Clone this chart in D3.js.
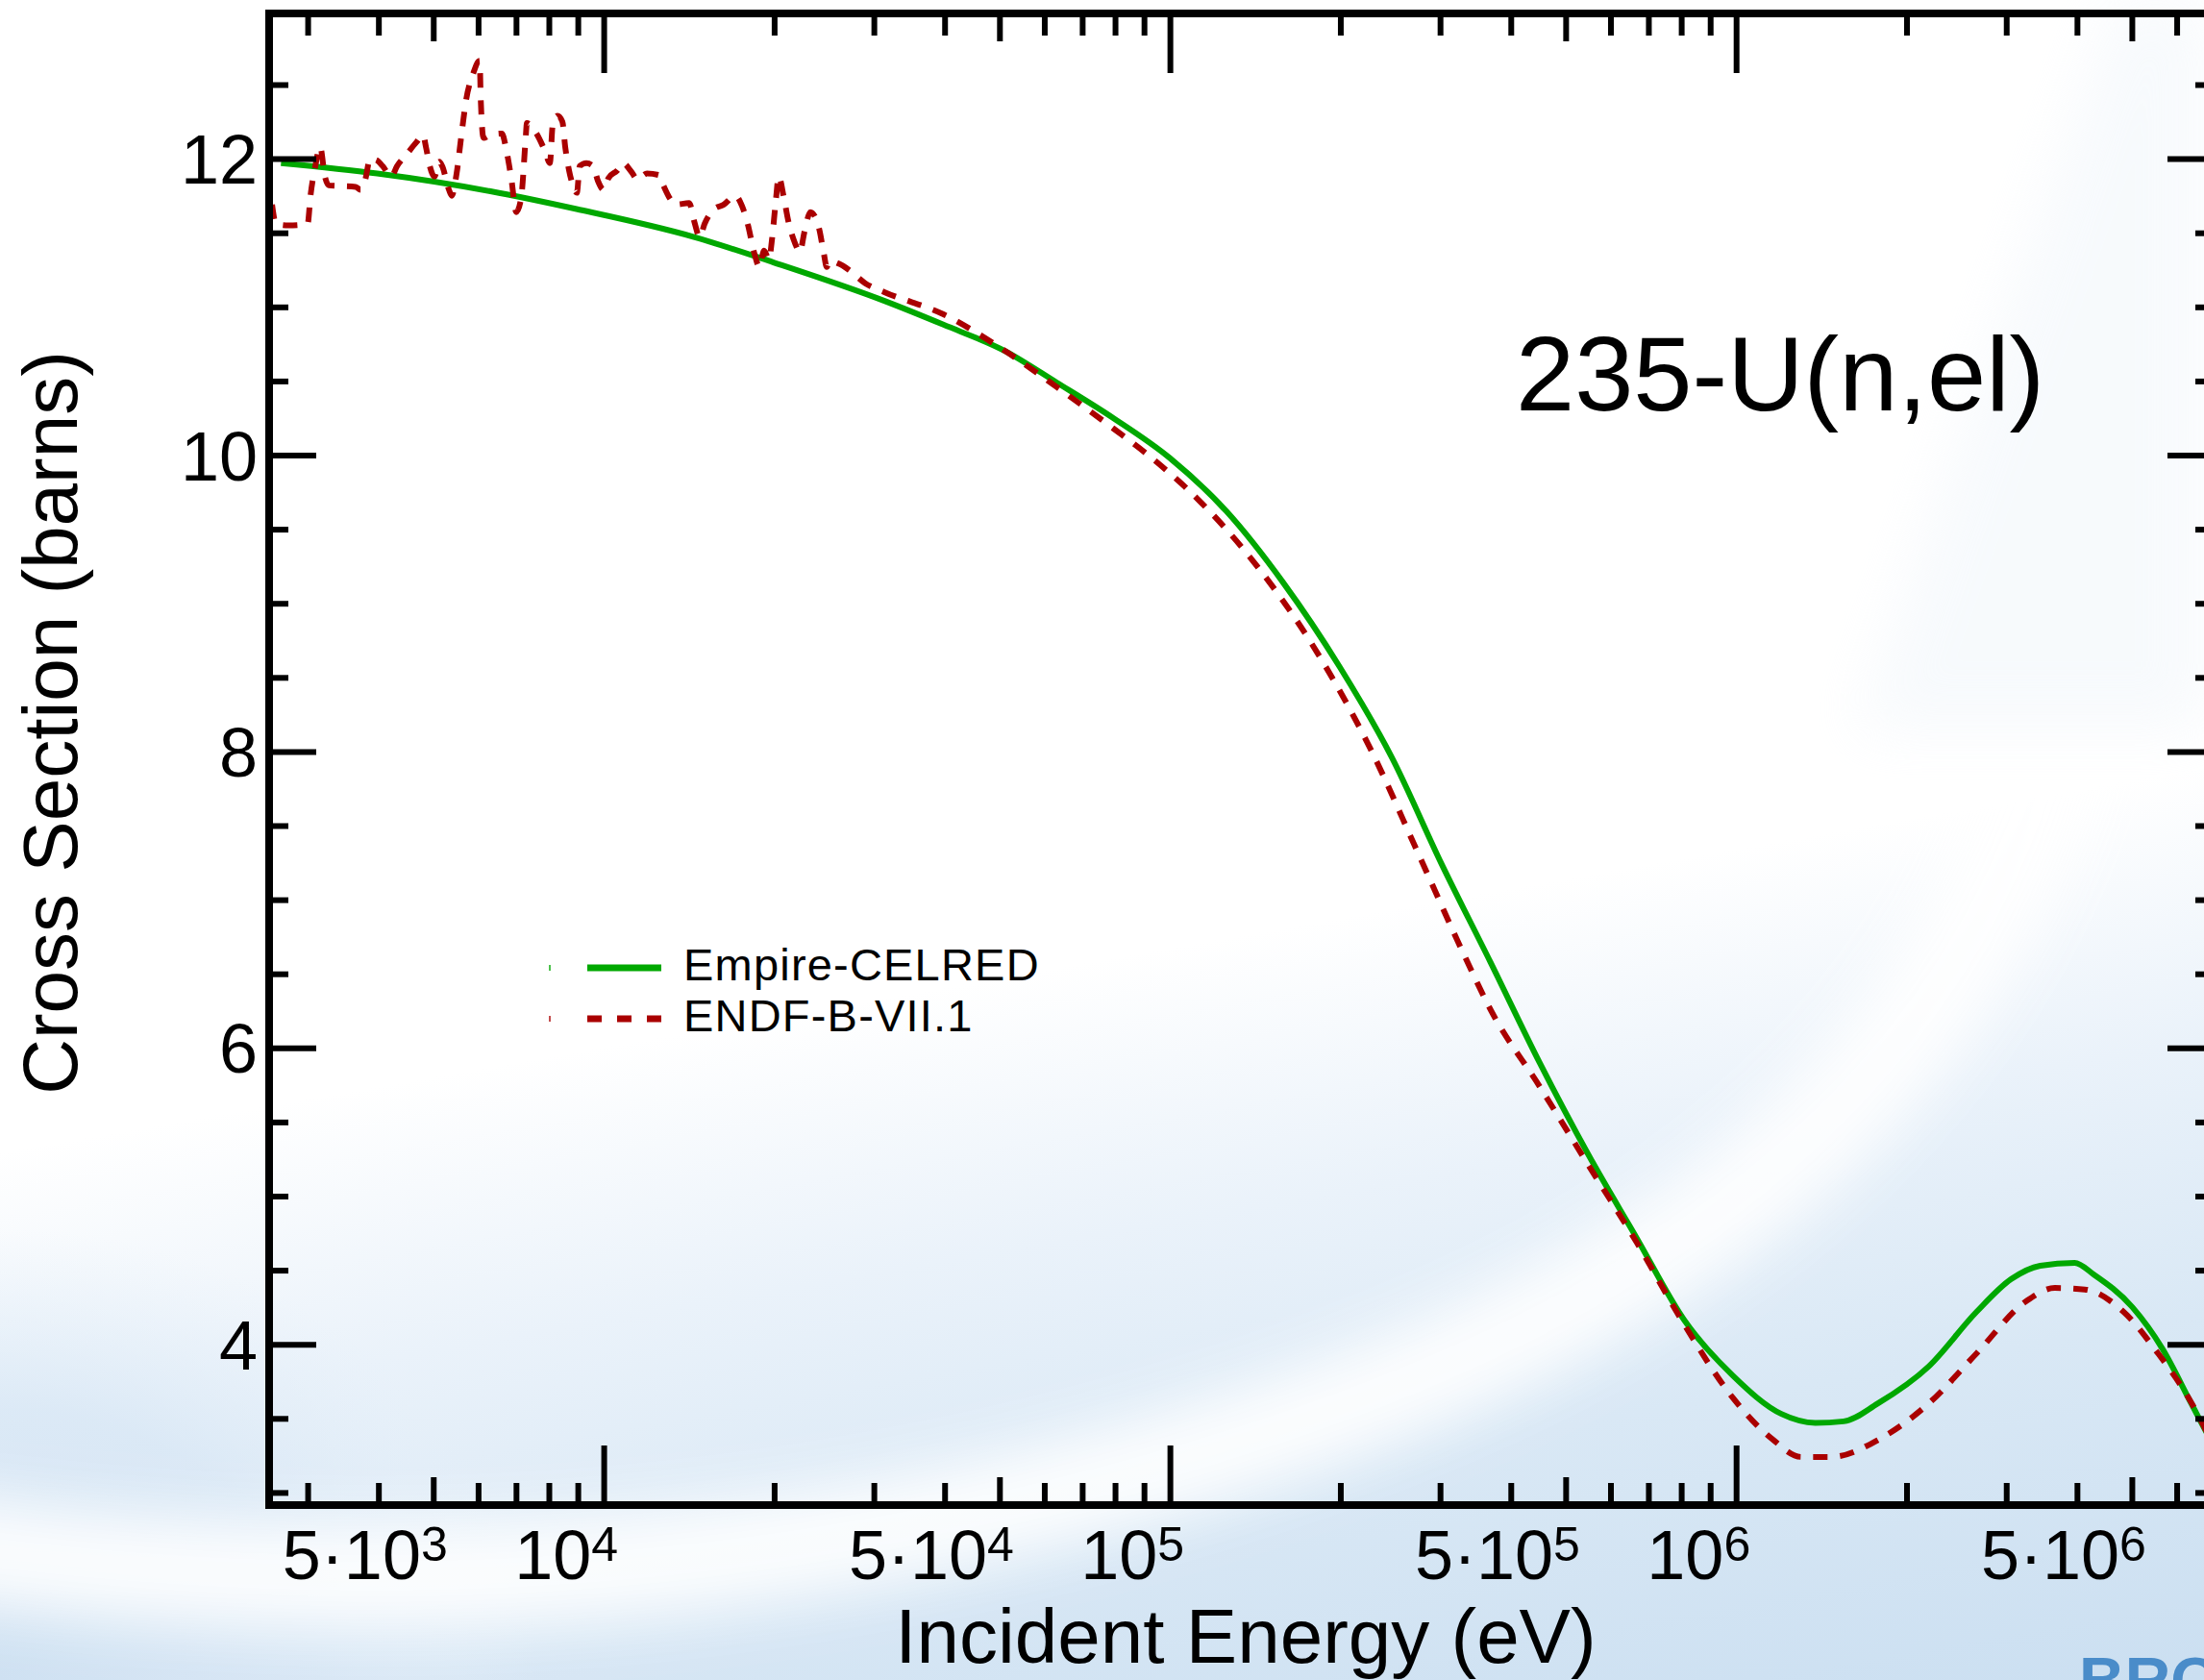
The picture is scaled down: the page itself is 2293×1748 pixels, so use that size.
<!DOCTYPE html>
<html>
<head>
<meta charset="utf-8">
<script src="https://cdn.jsdelivr.net/npm/d3@7"></script>
<style>
  html, body { margin: 0; padding: 0; background: #ffffff; overflow: hidden; }
  svg { display: block; }
  text { font-family: "Liberation Sans", Arial, Helvetica, sans-serif; fill: #000; }
</style>
</head>
<body>
<svg id="chart"></svg>
<script>
// ---- 235-U elastic cross section: Empire-CELRED vs ENDF/B-VII.1 ----

// Empire-CELRED evaluation (smooth), energy in eV, cross section in barns
const empireEnergy = [2692, 3981, 6310, 8954, 14488, 19953, 31333, 39811, 51286, 63096,
  79433, 100000, 125893, 158489, 199526, 246604, 301995, 368129, 449780, 548277,
  666807, 810961, 986279, 1202264, 1380384, 1548817, 1778279, 2187762, 2660725, 3062290,
  3443499, 3962780, 4285485, 5011872, 5662393, 6367955, 7000000];
const empireXS = [11.97, 11.90, 11.78, 11.66, 11.47, 11.30, 11.04, 10.88, 10.70, 10.49,
  10.25, 9.98, 9.62, 9.14, 8.57, 7.96, 7.24, 6.58, 5.90, 5.28,
  4.72, 4.16, 3.79, 3.53, 3.47, 3.48, 3.60, 3.85, 4.22, 4.44,
  4.53, 4.55, 4.47, 4.25, 3.97, 3.60, 3.30];

// ENDF/B-VII.1 (unresolved-resonance structure below ~30 keV)
const endfEnergy = [2596, 2637, 2774, 3000, 3035, 3095, 3156, 3218, 3269, 3648,
  3720, 3793, 3868, 3975, 4070, 4216, 4315, 4487, 4667, 4797,
  4853, 4930, 5025, 5125, 5185, 5330, 5391, 5498, 5607, 5717,
  5876, 6039, 6063, 6134, 6305, 6607, 6737, 6871, 7007, 7145,
  7287, 7315, 7577, 7878, 8034, 8128, 8289, 8453, 8551, 8687,
  8790, 8966, 9072, 9320, 9579, 9768, 10000, 10198, 10563, 10814,
  11200, 11467, 11925, 12497, 12744, 13096, 13355, 14163, 14443, 14778,
  15070, 15670, 16295, 17078, 17553, 17961, 18459, 18836, 19198, 19588,
  19819, 20130, 20375, 20777, 21184, 21772, 22198, 22635, 23174, 24004,
  24479, 24768, 25061, 26062, 27098, 28960, 31310, 39811, 51286, 63096,
  79433, 92257, 112202, 141254, 177828, 225944, 275423, 333426, 368129, 449780,
  548277, 666807, 810961, 986279, 1159000, 1303000, 1472000, 1791000, 2188000, 2661000,
  3251000, 3656000, 4130000, 4831000, 5559000, 6383000, 7000000];
const endfXS = [11.69, 11.56, 11.55, 11.56, 11.75, 11.95, 12.08, 11.88, 11.82, 11.81,
  11.79, 11.86, 12.00, 11.99, 11.95, 11.88, 11.95, 12.03, 12.11, 12.16,
  12.08, 11.95, 11.88, 11.98, 11.95, 11.79, 11.75, 11.90, 12.16, 12.40,
  12.57, 12.66, 12.42, 12.14, 12.16, 12.17, 12.05, 11.86, 11.64, 11.73,
  12.16, 12.24, 12.18, 12.05, 11.97, 12.23, 12.29, 12.25, 12.08, 11.92,
  11.84, 11.77, 11.95, 11.97, 11.95, 11.85, 11.79, 11.87, 11.92, 11.97,
  11.91, 11.86, 11.90, 11.89, 11.82, 11.73, 11.69, 11.70, 11.58, 11.47,
  11.56, 11.66, 11.69, 11.75, 11.68, 11.56, 11.36, 11.27, 11.38, 11.32,
  11.45, 11.71, 11.88, 11.75, 11.58, 11.43, 11.37, 11.51, 11.64, 11.53,
  11.36, 11.27, 11.31, 11.29, 11.25, 11.16, 11.10, 10.95, 10.70, 10.46,
  10.18, 9.99, 9.70, 9.27, 8.73, 8.02, 7.30, 6.60, 6.26, 5.74,
  5.21, 4.69, 4.13, 3.64, 3.36, 3.24, 3.24, 3.36, 3.60, 3.94,
  4.29, 4.38, 4.37, 4.22, 3.94, 3.60, 3.30];

// Axis ticks and labels
const xMajorTicks = [1e4, 1e5, 1e6];
const xHalfTicks = [5e3, 5e4, 5e5, 5e6];
const xMinorTicks = [3e3, 4e3, 6e3, 7e3, 8e3, 9e3,
  2e4, 3e4, 4e4, 6e4, 7e4, 8e4, 9e4,
  2e5, 3e5, 4e5, 6e5, 7e5, 8e5, 9e5,
  2e6, 3e6, 4e6, 6e6];
const xLabelValues = [5e3, 1e4, 5e4, 1e5, 5e5, 1e6, 5e6];
const xLabelBase = ["5\u00b710", "10", "5\u00b710", "10", "5\u00b710", "10", "5\u00b710"];
const xLabelExp = ["3", "4", "4", "5", "5", "6", "6"];

const yMajorTicks = [4, 6, 8, 10, 12];
const yMinorTicks = [3, 3.5, 4.5, 5, 5.5, 6.5, 7, 7.5, 8.5, 9, 9.5, 10.5, 11, 11.5, 12.5];

const seriesNames = ["Empire-CELRED", "ENDF-B-VII.1"];
const seriesColors = ["#00a800", "#aa0000"];

const W = 2293, H = 1748;
const plot = { left: 280, right: 2304, top: 14, bottom: 1566 };

const svg = d3.select("#chart").attr("width", W).attr("height", H);
const defs = svg.append("defs");

// ---- background: white, turning pale blue toward the bottom, with a glare arc ----
const dg = defs.append("linearGradient")
  .attr("id", "bgDiag").attr("gradientUnits", "userSpaceOnUse")
  .attr("x1", 203).attr("y1", 1164).attr("x2", 364).attr("y2", 2084);
[[0, "#ffffff"], [0.3, "#eaf2fa"], [0.6, "#d9e8f5"], [1, "#cbdff1"]].forEach(([o, c]) =>
  dg.append("stop").attr("offset", o).attr("stop-color", c));

const cg = defs.append("radialGradient")
  .attr("id", "cornerBlue").attr("gradientUnits", "userSpaceOnUse")
  .attr("cx", 0).attr("cy", 0).attr("r", 1)
  .attr("gradientTransform", "translate(0,1748) scale(560,470)");
cg.append("stop").attr("offset", 0).attr("stop-color", "#cfe1f2").attr("stop-opacity", 1);
cg.append("stop").attr("offset", 0.6).attr("stop-color", "#d8e7f5").attr("stop-opacity", 0.8);
cg.append("stop").attr("offset", 1).attr("stop-color", "#e6f0f9").attr("stop-opacity", 0);

defs.append("filter").attr("id", "soft").attr("x", "-30%").attr("y", "-30%")
  .attr("width", "160%").attr("height", "160%")
  .append("feGaussianBlur").attr("stdDeviation", 30);

svg.append("rect").attr("width", W).attr("height", H).attr("fill", "url(#bgDiag)");
svg.append("rect").attr("width", W).attr("height", H).attr("fill", "url(#cornerBlue)");
// glare arc sweeping under the energy axis and up toward the right
svg.append("path")
  .attr("d", "M -120 1600 Q 650 1720 1350 1480 T 2150 700")
  .attr("fill", "none").attr("stroke", "#ffffff").attr("stroke-width", 110)
  .attr("opacity", 0.9).attr("filter", "url(#soft)");
// faint sheen in the upper right
svg.append("path")
  .attr("d", "M 2200 0 L 2293 0 L 2293 760 L 1930 760 Z")
  .attr("fill", "#eef4fa").attr("opacity", 0.45).attr("filter", "url(#soft)");

// ---- scales ----
const x = d3.scaleLog().domain([2565, 7.0e6]).range([plot.left, plot.right]);
const y = d3.scaleLinear().domain([2.915, 12.98]).range([plot.bottom, plot.top]);

// ---- curves ----
defs.append("clipPath").attr("id", "plotClip")
  .append("rect").attr("x", plot.left).attr("y", plot.top)
  .attr("width", plot.right - plot.left).attr("height", plot.bottom - plot.top);

const line = d3.line().x(d => x(d[0])).y(d => y(d[1])).curve(d3.curveMonotoneX);
const curves = svg.append("g").attr("clip-path", "url(#plotClip)");

curves.append("path")
  .datum(empireEnergy.map((e, i) => [e, empireXS[i]]))
  .attr("d", line).attr("fill", "none")
  .attr("stroke", seriesColors[0]).attr("stroke-width", 6).attr("stroke-linejoin", "round");

curves.append("path")
  .datum(endfEnergy.map((e, i) => [e, endfXS[i]]))
  .attr("d", line).attr("fill", "none")
  .attr("stroke", seriesColors[1]).attr("stroke-width", 6)
  .attr("stroke-dasharray", "15,13");

// ---- ticks (all pointing into the frame) ----
function tickSet(axisGen, values, size, tx, ty) {
  const g = svg.append("g").attr("transform", `translate(${tx},${ty})`);
  g.call(axisGen.tickValues(values).tickSize(size).tickFormat(() => ""));
  g.select(".domain").remove();
  g.selectAll(".tick text").remove();
  g.selectAll(".tick line").attr("stroke", "#000").attr("stroke-width", 6);
}
[[xMajorTicks, 62], [xHalfTicks, 29], [xMinorTicks, 23]].forEach(([vals, len]) => {
  tickSet(d3.axisTop(x), vals, len, 0, plot.bottom);
  tickSet(d3.axisBottom(x), vals, len, 0, plot.top);
});
[[yMajorTicks, 49], [yMinorTicks, 20]].forEach(([vals, len]) => {
  tickSet(d3.axisRight(y), vals, len, plot.left, 0);
  tickSet(d3.axisLeft(y), vals, len, plot.right, 0);
});

// frame
svg.append("rect")
  .attr("x", plot.left).attr("y", plot.top)
  .attr("width", plot.right - plot.left).attr("height", plot.bottom - plot.top)
  .attr("fill", "none").attr("stroke", "#000").attr("stroke-width", 8);

// ---- tick labels ----
svg.append("g").selectAll("text").data(yMajorTicks).join("text")
  .attr("x", plot.left - 12).attr("y", d => y(d) + 26)
  .attr("text-anchor", "end").attr("font-size", 72)
  .text(d => d);

const xl = svg.append("g").selectAll("text").data(xLabelValues).join("text")
  .attr("x", d => x(d) + 15).attr("y", 1643)
  .attr("text-anchor", "end").attr("font-size", 72);
xl.append("tspan").text((d, i) => xLabelBase[i]);
xl.append("tspan").attr("font-size", 50).attr("dy", -19).text((d, i) => xLabelExp[i]);

// ---- axis titles ----
svg.append("text")
  .attr("x", (plot.left + plot.right) / 2 + 4).attr("y", 1730)
  .attr("text-anchor", "middle").attr("font-size", 80)
  .text("Incident Energy (eV)");
svg.append("text")
  .attr("transform", "translate(80,752) rotate(-90)")
  .attr("text-anchor", "middle").attr("font-size", 80)
  .text("Cross Section (barns)");

// reaction label
svg.append("text")
  .attr("x", 1577).attr("y", 427).attr("font-size", 110)
  .text("235-U(n,el)");

// ---- legend ----
const legend = svg.append("g");
const legendRows = [1007, 1060];
seriesNames.forEach((name, i) => {
  const ly = legendRows[i];
  legend.append("rect").attr("x", 571).attr("y", ly - 3).attr("width", 2).attr("height", 6)
    .attr("fill", seriesColors[i]).attr("opacity", 0.7);
  legend.append("line")
    .attr("x1", 611).attr("x2", 688).attr("y1", ly).attr("y2", ly)
    .attr("stroke", seriesColors[i]).attr("stroke-width", 7)
    .attr("stroke-dasharray", i === 1 ? "15,16" : null);
  legend.append("text")
    .attr("x", 711).attr("y", ly + 13).attr("font-size", 47)
    .attr("letter-spacing", 1.2)
    .text(name);
});

// laboratory logo, cut by the lower edge
svg.append("text")
  .attr("x", 2163).attr("y", 1771)
  .attr("font-size", 66).attr("font-weight", "bold")
  .style("fill", "#4a8cc9")
  .text("BROOKHAVEN");
</script>
</body>
</html>
